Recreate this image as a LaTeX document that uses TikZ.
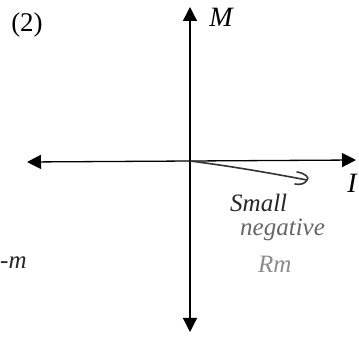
\documentclass[tikz,border=0pt]{standalone}
\usepackage{fontspec}
\setmainfont{Liberation Serif}
\usetikzlibrary{arrows.meta}
\tikzset{
  axis/.style={line width=1.3pt,{Triangle[length=14pt,width=14pt]}-{Triangle[length=14pt,width=14pt]}},
  lbl/.style={font=\fontsize{28}{30}\selectfont\itshape,inner sep=0pt},
  hand/.style={font=\fontsize{25}{27}\selectfont\itshape,inner sep=0pt,align=left},
  handline/.style={line width=1.6pt,draw=black!80}
}
\begin{document}
\begin{tikzpicture}[x=1pt,y=-1pt]
\useasboundingbox (0,0) rectangle (359,339);
\coordinate (O) at (190,161);
\coordinate (T) at (190,7);
\coordinate (B) at (190,332);
\coordinate (L) at (27,162);
\coordinate (R) at (356,160);
\draw[axis] (B) -- (T);
\draw[axis] (L) -- (R);
\node[lbl] (M) at (221,17) {M};
\node[lbl] (I) at (352,183) {I};
\node[font=\fontsize{27}{29}\selectfont,inner sep=0pt] (two) at (27,25) {(2)};
\coordinate (E) at (307,180);
\draw[handline] (O) .. controls (230,166) and (270,173) .. (E);
\draw[handline,line cap=round] (297,172) .. controls (305,173) and (310,178) .. (E) .. controls (305,184) and (300,185) .. (295,184);
\node[hand,text=black!85,anchor=west] (s) at (230,203) {Small};
\node[hand,text=black!60,anchor=west] (n) at (240,230) {negative};
\node[hand,text=black!45,anchor=west] (r) at (258,264) {Rm};
\node[hand,text=black!85,anchor=west] (m) at (0,263) {-m};
\end{tikzpicture}
\end{document}
